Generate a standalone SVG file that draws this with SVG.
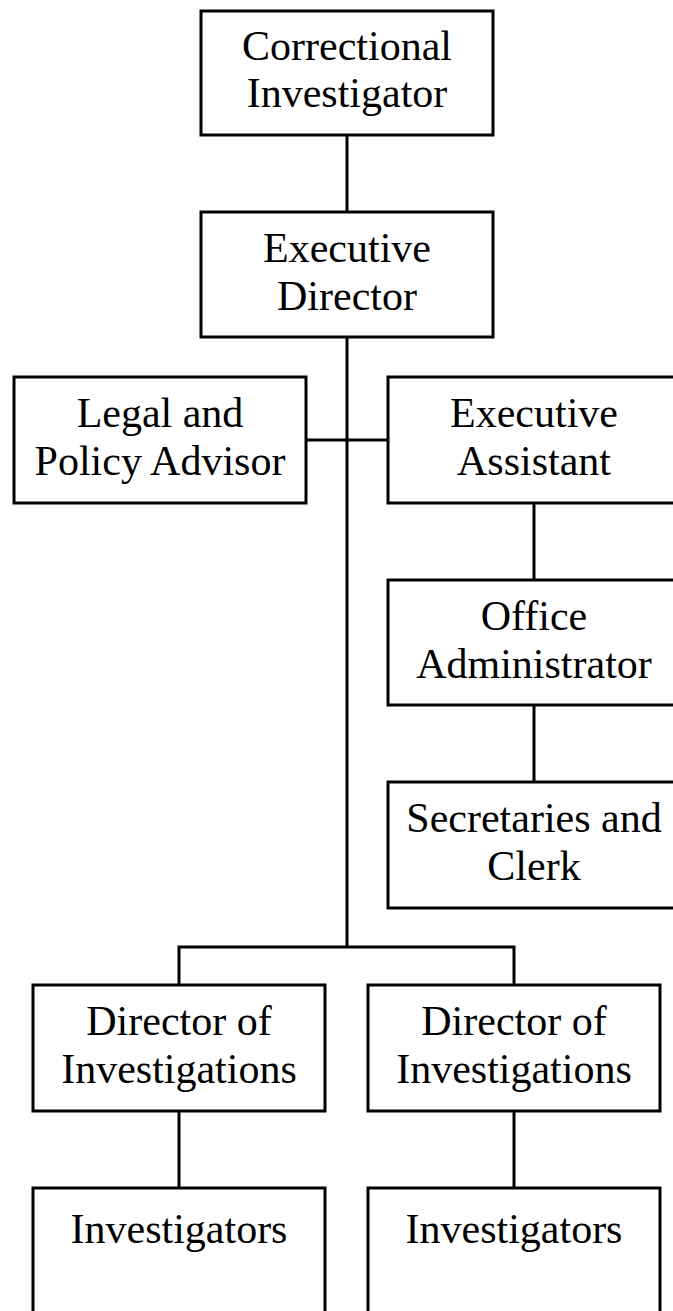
<svg xmlns="http://www.w3.org/2000/svg" width="673" height="1311" viewBox="0 0 673 1311">
<style>
.box{fill:#fff;stroke:#000;stroke-width:3}
.ln{fill:none;stroke:#000;stroke-width:3}
text{font-family:"Liberation Serif","Times New Roman",serif;font-size:42px;fill:#000;text-anchor:middle}
</style>
<rect width="673" height="1311" fill="#fff"/>
<g id="connectors">
<path class="ln" d="M347 135V212"/>
<path class="ln" d="M347 337V947"/>
<path class="ln" d="M306 440H388"/>
<path class="ln" d="M534 503V580"/>
<path class="ln" d="M534 705V782"/>
<path class="ln" d="M179 985V947H514V985"/>
<path class="ln" d="M179 1111V1188"/>
<path class="ln" d="M514 1111V1188"/>
</g>
<g id="correctional-investigator">
<rect class="box" x="201" y="11" width="292" height="124"/>
<text x="347" y="60">Correctional</text>
<text x="347" y="107">Investigator</text>
</g>
<g id="executive-director">
<rect class="box" x="201" y="212" width="292" height="125"/>
<text x="347" y="262">Executive</text>
<text x="347" y="310">Director</text>
</g>
<g id="legal-policy-advisor">
<rect class="box" x="14" y="377" width="292" height="126"/>
<text x="160" y="427">Legal and</text>
<text x="160" y="475">Policy Advisor</text>
</g>
<g id="executive-assistant">
<rect class="box" x="388" y="377" width="292" height="126"/>
<text x="534" y="427">Executive</text>
<text x="534" y="475">Assistant</text>
</g>
<g id="office-administrator">
<rect class="box" x="388" y="580" width="292" height="125"/>
<text x="534" y="630">Office</text>
<text x="534" y="678">Administrator</text>
</g>
<g id="secretaries-clerk">
<rect class="box" x="388" y="782" width="292" height="126"/>
<text x="534" y="832">Secretaries and</text>
<text x="534" y="880">Clerk</text>
</g>
<g id="director-investigations-1">
<rect class="box" x="33" y="985" width="292" height="126"/>
<text x="179" y="1035">Director of</text>
<text x="179" y="1083">Investigations</text>
</g>
<g id="director-investigations-2">
<rect class="box" x="368" y="985" width="292" height="126"/>
<text x="514" y="1035">Director of</text>
<text x="514" y="1083">Investigations</text>
</g>
<g id="investigators-1">
<rect class="box" x="33" y="1188" width="292" height="130"/>
<text x="179" y="1243">Investigators</text>
</g>
<g id="investigators-2">
<rect class="box" x="368" y="1188" width="292" height="130"/>
<text x="514" y="1243">Investigators</text>
</g>
</svg>
